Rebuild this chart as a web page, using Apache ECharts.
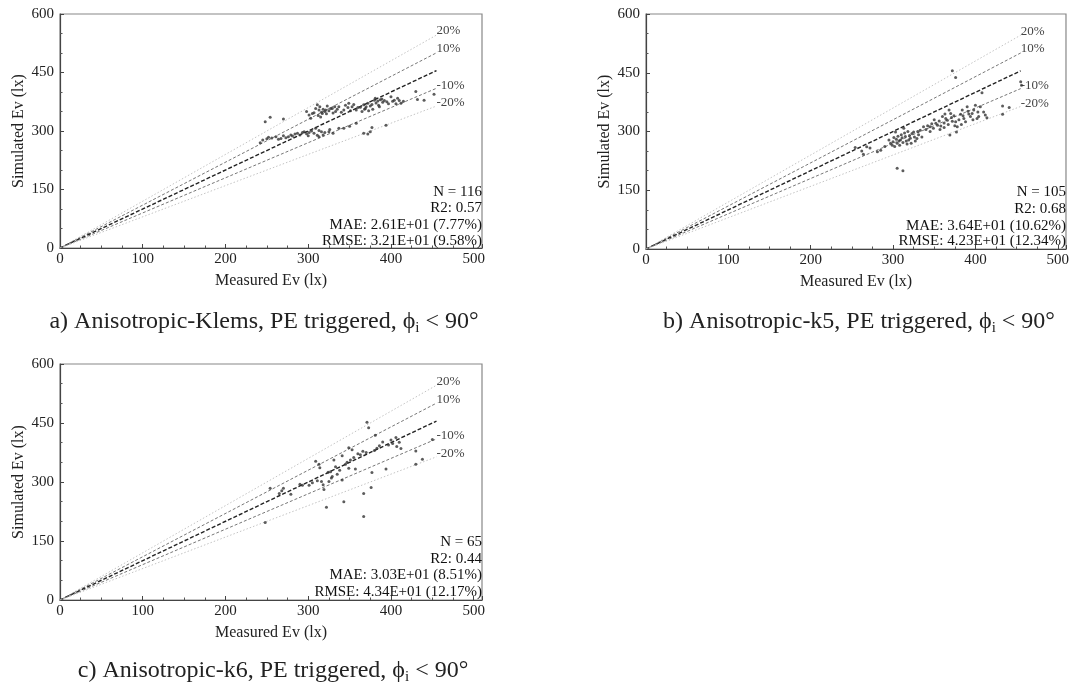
<!DOCTYPE html>
<html>
<head>
<meta charset="utf-8">
<script src="https://cdn.jsdelivr.net/npm/echarts@6/dist/echarts.min.js"></script>
<style>
  html, body { margin: 0; padding: 0; background: #fff; }
  #main { width: 1072px; height: 691px; }
</style>
</head>
<body>
<div id="main"></div>
<script>
// 测量值 vs 模拟值 (Measured, Simulated)
const klemsPoints = [
  [248,324],[254,335],[270,331],[298,350],[301,341],[303,333],[305,345],[307,347],[309,358],[311,367],
  [312,340],[313,354],[314,362],[315,336],[316,348],[317,345],[318,356],[320,350],[321,354],[322,344],
  [323,364],[325,352],[327,358],[329,358],[330,346],[332,362],[333,350],[335,356],[337,362],[340,348],
  [343,354],[345,366],[348,360],[349,371],[351,352],[353,362],[355,368],
  [242,270],[245,277],[250,280],[252,284],[256,282],[261,285],[264,279],[267,281],[270,288],[273,283],
  [276,285],[279,290],[281,287],[284,292],[287,294],[290,290],[293,296],[295,298],[298,293],[301,296],
  [304,300],[307,294],[309,307],[311,289],[313,301],[313,285],[316,298],[320,296],[325,298],[330,294],
  [358,354],[360,360],[363,361],[365,350],[367,367],[368,356],[369,358],[370,362],[372,371],[373,352],
  [375,364],[377,368],[378,356],[380,379],[381,384],[382,372],[384,377],[385,366],[386,362],[387,380],
  [389,382],[390,374],[392,378],[395,375],[397,370],[400,388],[402,376],[404,379],[406,370],[408,384],
  [410,378],[412,371],[415,376],[430,401],[432,381],[440,379],[452,394],
  [337,307],[343,307],[350,312],[358,320],[367,294],[372,292],[375,298],[377,309],[394,315],[300,288],
  [318,290],[326,304]
];
const k5Points = [
  [372,455],[376,438],[305,206],[312,200],[455,427],[456,418],
  [254,259],[262,250],[264,242],[268,261],[272,258],[281,248],[285,252],[290,262],
  [295,278],[297,270],[299,265],[300,274],[301,285],[302,262],[303,299],[304,280],[305,270],[306,288],
  [307,276],[308,265],[309,278],[310,292],[311,284],[312,272],[313,308],[314,296],[315,287],[316,276],
  [317,268],[318,300],[319,278],[320,290],[321,283],[322,270],[323,295],[325,299],[326,286],[327,276],
  [329,282],[330,300],[331,292],[333,303],[335,286],[337,312],
  [340,305],[342,315],[345,312],[347,320],[349,308],[352,321],[354,316],[356,327],[358,314],[360,338],
  [362,322],[364,333],[366,329],[367,318],[368,355],[369,291],[370,346],[371,336],[372,326],[374,340],
  [375,315],[377,299],[378,312],[380,330],[382,344],[384,355],[385,340],[386,333],[388,325],[390,363],
  [392,345],[394,338],[396,346],[398,355],[400,367],[402,333],[404,338],[406,363],[408,399],[410,350],
  [412,342],[414,335],[433,365],[433,344],[441,361],
  [345,300],[350,330],[357,305],[363,345],[376,325],[383,318],[391,352],[397,330],[403,350],[362,310]
];
const k6Points = [
  [248,197],[254,284],[265,271],[268,278],[270,284],[279,269],[290,294],[293,292],[301,292],[305,298],
  [309,353],[311,303],[313,345],[314,336],[316,301],[318,293],[319,281],[322,236],[324,325],[325,301],
  [327,326],[328,310],[329,314],[331,356],[333,339],[335,320],[338,330],[341,367],[341,305],[343,250],
  [345,345],[347,350],[349,335],[349,387],[351,356],[353,382],[355,362],[357,333],[360,372],[363,369],
  [366,378],[367,271],[367,212],[370,375],[371,452],[373,438],[376,286],[377,324],[380,380],[381,419],
  [383,386],[386,392],[390,402],[394,333],[397,394],[400,407],[402,398],[406,413],[407,390],[410,401],
  [412,385],[430,379],[430,345],[438,358],[450,408]
];
// 参考线 (1:1, ±10%, ±20%)
const oneToOne = [[0, 0], [455, 455]];
const plus10 = [[0, 0], [455, 500.5]];
const minus10 = [[0, 0], [455, 409.5]];
const plus20 = [[0, 0], [455, 546]];
const minus20 = [[0, 0], [455, 364]];

const xTickStep = 100;
const yTickStep = 150;

const statsA = ['N = 116', 'R2: 0.57', 'MAE: 2.61E+01 (7.77%)', 'RMSE: 3.21E+01 (9.58%)'];
const statsB = ['N = 105', 'R2: 0.68', 'MAE: 3.64E+01 (10.62%)', 'RMSE: 4.23E+01 (12.34%)'];
const statsC = ['N = 65', 'R2: 0.44', 'MAE: 3.03E+01 (8.51%)', 'RMSE: 4.34E+01 (12.17%)'];

const captions = [
  ['a) Anisotropic-Klems, PE triggered, ', 264, 322],
  ['b) Anisotropic-k5, PE triggered, ', 859, 322],
  ['c) Anisotropic-k6, PE triggered, ', 273, 671]
];

const serif = 'Liberation Serif';

let chart = echarts.init(document.getElementById('main'));

const grids = [
  { left: 60, top: 14, width: 422, height: 234 },
  { left: 646, top: 14, width: 420, height: 235 },
  { left: 60, top: 364, width: 422, height: 236 }
];

function xAxisFor(i) {
  return {
    gridIndex: i,
    type: 'value',
    min: 0,
    max: 510,
    interval: xTickStep,
    name: 'Measured Ev (lx)',
    nameLocation: 'middle',
    nameGap: 25,
    nameTextStyle: { fontFamily: serif, fontSize: 16, color: '#222' },
    axisLine: { lineStyle: { color: '#444', width: 1.2 } },
    axisTick: { inside: true, length: 4, lineStyle: { color: '#444' } },
    minorTick: { show: true, splitNumber: 4, length: 2.5, lineStyle: { color: '#555' } },
    splitLine: { show: false },
    axisLabel: {
      fontFamily: serif, fontSize: 15, color: '#222', margin: 4,
      formatter: function (v) { return v % xTickStep === 0 ? String(v) : ''; }
    }
  };
}

function yAxisFor(i) {
  return {
    gridIndex: i,
    type: 'value',
    min: 0,
    max: 600,
    interval: yTickStep,
    name: 'Simulated Ev (lx)',
    nameLocation: 'middle',
    nameGap: 33,
    nameTextStyle: { fontFamily: serif, fontSize: 16, color: '#222' },
    axisLine: { lineStyle: { color: '#444', width: 1.2 } },
    axisTick: { inside: true, length: 4, lineStyle: { color: '#444' } },
    minorTick: { show: true, splitNumber: 3, length: 2.5, lineStyle: { color: '#555' } },
    splitLine: { show: false },
    axisLabel: { fontFamily: serif, fontSize: 15, color: '#222', margin: 6 }
  };
}

function refLine(i, data, color, type, width, label, dy) {
  return {
    type: 'line',
    xAxisIndex: i,
    yAxisIndex: i,
    data: data,
    showSymbol: false,
    symbol: 'none',
    silent: true,
    z: 1,
    lineStyle: { color: color, type: type, width: width },
    endLabel: label ? {
      show: true,
      formatter: label,
      distance: 0,
      offset: [0, dy],
      fontFamily: serif,
      fontSize: 13,
      color: '#444'
    } : { show: false }
  };
}

function panelSeries(i, points) {
  return [
    refLine(i, plus20, '#c4c4c4', [1.5, 2], 1, '20%', -4),
    refLine(i, plus10, '#777', [3, 2], 1, '10%', -4),
    refLine(i, oneToOne, '#222', [4, 2], 1.4, null, 0),
    refLine(i, minus10, '#777', [3, 2], 1, '-10%', -3),
    refLine(i, minus20, '#c4c4c4', [1.5, 2], 1, '-20%', -3),
    {
      type: 'scatter',
      xAxisIndex: i,
      yAxisIndex: i,
      data: points,
      symbolSize: 3,
      z: 3,
      itemStyle: { color: '#333' }
    }
  ];
}

function statsText(lines, right, ys) {
  return lines.map(function (t, k) {
    return {
      type: 'text',
      style: {
        text: t, x: right, y: ys[k],
        align: 'right', verticalAlign: 'middle',
        fontFamily: serif, fontSize: 15, fill: '#111'
      }
    };
  });
}

function captionText(c) {
  return {
    type: 'text',
    style: {
      text: c[0] + '{phi|ϕ}{sub|i}{n| < 90°}',
      x: c[1], y: c[2],
      align: 'center', verticalAlign: 'middle',
      fontFamily: serif, fontSize: 24, fill: '#222',
      rich: {
        phi: { fontFamily: serif, fontSize: 24, color: '#222', lineHeight: 28 },
        sub: { fontFamily: serif, fontSize: 15, color: '#222', verticalAlign: 'bottom', lineHeight: 15 },
        n: { fontFamily: serif, fontSize: 24, color: '#222', lineHeight: 28 }
      }
    }
  };
}

let option = {
  animation: false,
  backgroundColor: '#fff',
  grid: grids.map(function (g) {
    return Object.assign({ show: true, borderColor: '#888', borderWidth: 1.2, backgroundColor: 'transparent' }, g);
  }),
  xAxis: [xAxisFor(0), xAxisFor(1), xAxisFor(2)],
  yAxis: [yAxisFor(0), yAxisFor(1), yAxisFor(2)],
  series: [].concat(panelSeries(0, klemsPoints), panelSeries(1, k5Points), panelSeries(2, k6Points)),
  graphic: [].concat(
    statsText(statsA, 482, [192, 208, 225, 241]),
    statsText(statsB, 1066, [192, 209, 226, 241]),
    statsText(statsC, 482, [542, 559, 575, 592]),
    captions.map(captionText)
  )
};
chart.setOption(option);
</script>
</body>
</html>
